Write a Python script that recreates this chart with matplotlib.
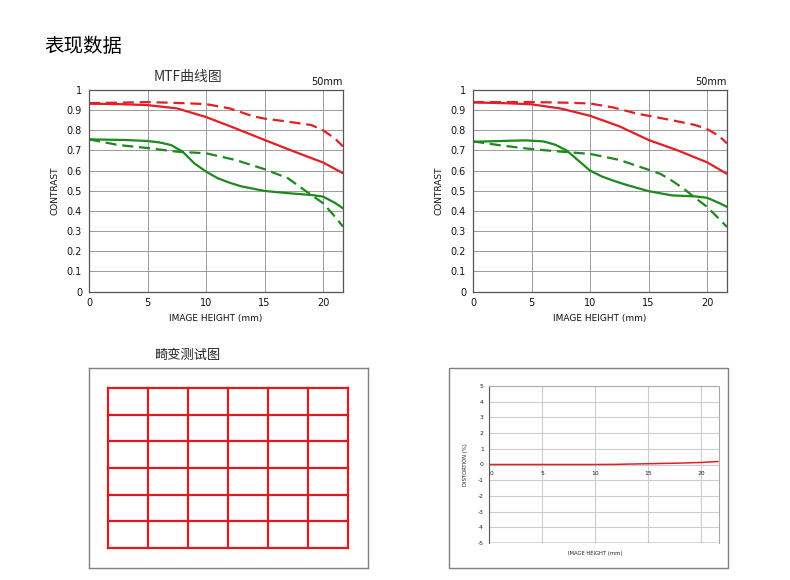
import matplotlib
matplotlib.use('Agg')
import matplotlib.pyplot as plt
from matplotlib import patches
import numpy as np

plt.rcParams['font.family'] = ['DejaVu Sans', 'Noto Sans CJK SC']
plt.rcParams['axes.unicode_minus'] = False
CJK = ['Noto Sans CJK SC', 'DejaVu Sans']

RED = '#e31f26'
GREEN = '#1c8a1c'

# MTF chart 1 (left)
mtf1_x = [0, 2.5, 5, 7.5, 10, 12.5, 15, 17.5, 20, 21.7]
mtf1_red_solid = [0.932, 0.930, 0.925, 0.909, 0.866, 0.810, 0.752, 0.695, 0.640, 0.587]
dash1_x = [0, 2.5, 5, 8, 10, 12, 14, 15, 17, 19, 20, 21, 21.7]
mtf1_red_dash = [0.935, 0.937, 0.940, 0.935, 0.930, 0.909, 0.870, 0.858, 0.843, 0.826, 0.800, 0.760, 0.720]
gs1_x = [0, 3, 5, 6, 7, 8, 9, 10, 11, 12, 13, 15, 17, 19, 20, 21, 21.7]
mtf1_green_solid = [0.755, 0.752, 0.747, 0.740, 0.727, 0.694, 0.636, 0.595, 0.562, 0.540, 0.522, 0.499,
                    0.488, 0.479, 0.471, 0.440, 0.413]
gd1_x = [0, 2.5, 5, 7.5, 10, 12.5, 15, 17, 18, 19, 20, 21, 21.7]
mtf1_green_dash = [0.755, 0.727, 0.712, 0.694, 0.686, 0.653, 0.607, 0.562, 0.520, 0.479, 0.438, 0.372, 0.322]

# MTF chart 2 (right)
mtf2_x = [0, 2.5, 5, 7.5, 10, 12.5, 15, 17.5, 20, 21.7]
mtf2_red_solid = [0.938, 0.935, 0.929, 0.908, 0.872, 0.820, 0.752, 0.700, 0.641, 0.584]
dash2_x = [0, 2.5, 5, 8, 10, 12, 14, 15, 17, 19, 20, 21, 21.7]
mtf2_red_dash = [0.940, 0.940, 0.940, 0.937, 0.933, 0.913, 0.883, 0.872, 0.850, 0.826, 0.806, 0.773, 0.735]
gs2_x = [0, 3, 4.5, 6, 7, 8, 9, 10, 11, 12, 13, 15, 17, 19, 20, 21, 21.7]
mtf2_green_solid = [0.743, 0.748, 0.750, 0.745, 0.729, 0.700, 0.650, 0.600, 0.571, 0.550, 0.531, 0.498,
                    0.477, 0.472, 0.465, 0.440, 0.420]
gd2_x = [0, 2.5, 5, 7.5, 10, 12.5, 15, 16, 17, 18, 19, 20, 21, 21.7]
mtf2_green_dash = [0.745, 0.724, 0.707, 0.694, 0.683, 0.653, 0.604, 0.584, 0.550, 0.510, 0.464, 0.420, 0.362, 0.320]

mtf_xticks = [0, 5, 10, 15, 20]
mtf_yticks = [0, 0.1, 0.2, 0.3, 0.4, 0.5, 0.6, 0.7, 0.8, 0.9, 1]
mtf_ylabels = ['0', '0.1', '0.2', '0.3', '0.4', '0.5', '0.6', '0.7', '0.8', '0.9', '1']

# distortion
dist_x = [0, 5, 10, 12, 15, 18, 20, 21.6]
dist_y = [0.0, 0.0, 0.0, 0.01, 0.05, 0.09, 0.13, 0.19]
dist_xticks = [0, 5, 10, 15, 20]
dist_yticks = [-5, -4, -3, -2, -1, 0, 1, 2, 3, 4, 5]

# distortion test grid
grid_cols = 6
grid_rows = 6

W, H = 790, 580
fig = plt.figure(figsize=(W / 100, H / 100), dpi=100)


def box(x0, y0, x1, y1):
    # pixel box -> figure fractions
    return [x0 / W, 1 - y1 / H, (x1 - x0) / W, (y1 - y0) / H]


fig.text(44 / W, 1 - 47 / H, '表现数据', family=CJK, fontsize=14, va='center', ha='left')


def mtf_panel(rect, curves, title=None):
    ax = fig.add_axes(rect)
    for xs, ys, color, dashed in curves:
        line, = ax.plot(xs, ys, color=color, lw=1.6, solid_capstyle='round')
        if dashed:
            line.set_dashes((5, 2.6))
    ax.set_xlim(0, 21.7)
    ax.set_ylim(0, 1)
    ax.set_xticks(mtf_xticks)
    ax.set_yticks(mtf_yticks)
    ax.set_yticklabels(mtf_ylabels)
    ax.grid(True, color='#9a9a9a', lw=0.7)
    ax.set_axisbelow(True)
    ax.tick_params(length=0, labelsize=7, pad=5, colors='#111111')
    for s in ax.spines.values():
        s.set_color('#555555')
        s.set_linewidth(0.9)
    ax.set_xlabel('IMAGE HEIGHT (mm)', fontsize=6.5, labelpad=4, color='#111111')
    ax.set_ylabel('CONTRAST', fontsize=6.5, labelpad=5, color='#111111')
    ax.text(1.0, 1.015, '50mm', transform=ax.transAxes, ha='right', va='bottom',
            fontsize=7, color='#111111')
    if title:
        ax.text(0.39, 1.065, title, transform=ax.transAxes, ha='center', va='center',
                family=CJK, fontsize=10, color='#333333')
    return ax


mtf_panel(box(89, 90, 343, 291.5), [
    (mtf1_x, mtf1_red_solid, RED, False),
    (dash1_x, mtf1_red_dash, RED, True),
    (gs1_x, mtf1_green_solid, GREEN, False),
    (gd1_x, mtf1_green_dash, GREEN, True),
], title='MTF曲线图')

mtf_panel(box(473, 90, 727, 291.5), [
    (mtf2_x, mtf2_red_solid, RED, False),
    (dash2_x, mtf2_red_dash, RED, True),
    (gs2_x, mtf2_green_solid, GREEN, False),
    (gd2_x, mtf2_green_dash, GREEN, True),
])

# distortion test grid panel
gax = fig.add_axes(box(89, 368, 368, 568))
gax.set_xlim(-0.475, grid_cols + 0.5)
gax.set_ylim(-0.75, grid_rows + 0.75)
gax.set_xticks([])
gax.set_yticks([])
for s in gax.spines.values():
    s.set_color('#808080')
    s.set_linewidth(1)
for c in range(grid_cols + 1):
    gax.plot([c, c], [0, grid_rows], color='#e2191f', lw=1.6)
for r in range(grid_rows + 1):
    gax.plot([0, grid_cols], [r, r], color='#e2191f', lw=1.6)
fig.text(187 / W, 1 - 355 / H, '畸变测试图', family=CJK, fontsize=9.5, ha='center', va='center',
         color='#222222')

# distortion chart frame
fig.patches.append(patches.Rectangle((449 / W, 1 - 568 / H), (728 - 449) / W, (568 - 368) / H,
                                     transform=fig.transFigure, fill=False,
                                     edgecolor='#808080', lw=1))

dax = fig.add_axes(box(489.3, 386, 719, 543))
dax.plot(dist_x, dist_y, color=RED, lw=1.1)
dax.set_xlim(0, 21.7)
dax.set_ylim(-5, 5)
dax.set_xticks(dist_xticks)
dax.set_yticks(dist_yticks)
dax.grid(True, color='#cccccc', lw=0.8)
dax.set_axisbelow(True)
dax.spines['bottom'].set_position(('data', 0))
dax.spines['bottom'].set_visible(False)
dax.axhline(-5, color='#555555', lw=1)
dax.spines['left'].set_color('#555555')
dax.spines['top'].set_color('#aaaaaa')
dax.spines['right'].set_color('#aaaaaa')
dax.tick_params(length=0, labelsize=4.3, pad=4, colors='#222222')
dax.tick_params(axis='x', pad=5)
xl = dax.get_xticklabels()
xl[0].set_horizontalalignment('left')
dax.set_ylabel('DISTORTION (%)', fontsize=3.8, labelpad=7, color='#222222')
dax.text(0.46, -0.065, 'IMAGE HEIGHT (mm)', transform=dax.transAxes, ha='center', va='center',
         fontsize=3.8, color='#222222')

fig.savefig('out.png', dpi=100)
